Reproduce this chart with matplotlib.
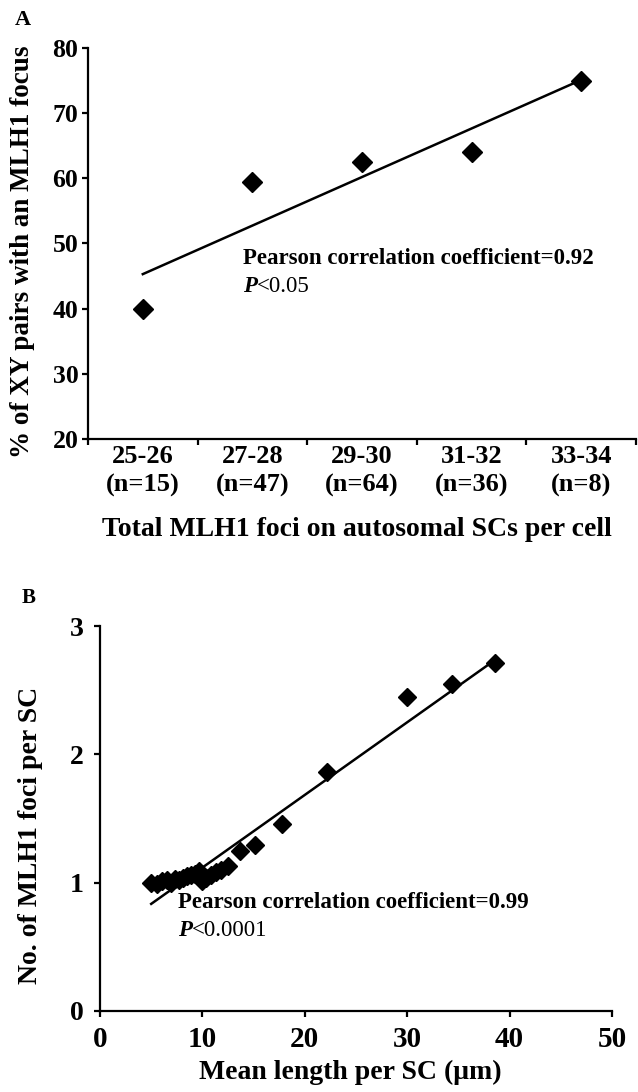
import numpy as np
import matplotlib
matplotlib.use("Agg")
import matplotlib.pyplot as plt
from matplotlib.transforms import offset_copy

plt.rcParams['font.family'] = ['Liberation Serif', 'DejaVu Serif']
plt.rcParams['font.weight'] = 'bold'

# ---- Panel A data ----
cat_ranges = ["25-26", "27-28", "29-30", "31-32", "33-34"]
cat_n = ["(n=15)", "(n=47)", "(n=64)", "(n=36)", "(n=8)"]
pct_xy_focus = [40.0, 59.5, 62.5, 64.0, 75.0]
a_yticks = [20, 30, 40, 50, 60, 70, 80]

# ---- Panel B data ----
mean_len = [5.0, 5.6, 6.1, 6.5, 6.9, 7.3, 7.7, 8.1, 8.5, 8.9, 9.3, 9.7,
            10.0, 10.4, 10.8, 11.3, 11.8, 12.5, 13.7, 15.1, 17.8, 22.2,
            30.0, 34.4, 38.6]
foci_per_sc = [1.00, 0.99, 1.01, 1.02, 1.00, 1.03, 1.02, 1.04, 1.05, 1.06,
               1.07, 1.09, 1.01, 1.04, 1.06, 1.08, 1.10, 1.13, 1.25, 1.29,
               1.46, 1.86, 2.45, 2.55, 2.71]
b_xticks = [0, 10, 20, 30, 40, 50]
b_yticks = [0, 1, 2, 3]

W, H = 638, 1092
fig = plt.figure(figsize=(W / 100, H / 100), dpi=100)

def box(l, t, r, b):
    return [l / W, 1 - b / H, (r - l) / W, (b - t) / H]

lw = 1.6

def style(ax):
    for s in ['top', 'right']:
        ax.spines[s].set_visible(False)
    for s in ['left', 'bottom']:
        ax.spines[s].set_linewidth(lw)
    ax.tick_params(which='both', direction='out', width=lw, length=4, color='black')

# ---------------- Panel A ----------------
axA = fig.add_axes(box(88, 48, 636, 439))
style(axA)
xa = np.arange(1, len(pct_xy_focus) + 1)
axA.plot(xa, pct_xy_focus, linestyle='none', marker='D', markersize=10.5,
         color='black', zorder=3)
ca = np.polyfit(xa, pct_xy_focus, 1)
xfa = np.array([xa[0], xa[-1]])
axA.plot(xfa, np.polyval(ca, xfa), color='black', linewidth=1.8)
axA.set_xlim(0.5, len(xa) + 0.5)
axA.set_ylim(20, 80)
axA.set_yticks(a_yticks)
axA.set_yticklabels([str(v) for v in a_yticks], fontsize=18.5, fontweight='bold')
axA.set_xticks(xa)
axA.set_xticklabels([f"{r}\n{n}" for r, n in zip(cat_ranges, cat_n)],
                    fontsize=19, fontweight='bold', linespacing=1.35)
axA.set_xticks(np.arange(0.5, len(xa) + 1), minor=True)
axA.tick_params(axis='x', which='major', length=0, pad=4)
axA.tick_params(axis='y', pad=3)
axA.set_ylabel("% of XY pairs with an MLH1 focus", fontsize=19.5, fontweight='bold')
axA.yaxis.set_label_coords(-0.097, 0.478)
axA.set_xlabel("Total MLH1 foci on autosomal SCs per cell", fontsize=20,
               fontweight='bold')
axA.xaxis.set_label_coords(0.49, -0.2)
axA.text(243 / W, 1 - 258 / H, "Pearson correlation coefficient=0.92",
         transform=fig.transFigure, fontsize=16.5, fontweight='bold',
         va='center', ha='left')
fig.text(243 / W, 1 - 286 / H, "P", fontsize=16.5, fontstyle='italic',
         fontweight='bold', va='center', ha='left')
fig.text(243 / W, 1 - 286 / H, "<0.05", fontsize=16.5, fontweight='normal',
         va='center', ha='left',
         transform=offset_copy(fig.transFigure, fig=fig, x=10, y=0, units='points'))
fig.text(23 / W, 1 - 20 / H, "A", fontsize=16, fontweight='bold',
         va='center', ha='center')

# ---------------- Panel B ----------------
axB = fig.add_axes(box(100, 626, 612, 1011))
style(axB)
axB.plot(mean_len, foci_per_sc, linestyle='none', marker='D', markersize=9,
         color='black', zorder=3)
cb = np.polyfit(mean_len, foci_per_sc, 1)
xfb = np.array([min(mean_len), max(mean_len)])
axB.plot(xfb, np.polyval(cb, xfb), color='black', linewidth=1.8)
axB.set_xlim(0, 50)
axB.set_ylim(0, 3)
axB.set_xticks(b_xticks)
axB.set_xticklabels([str(v) for v in b_xticks], fontsize=21, fontweight='bold')
axB.set_yticks(b_yticks)
axB.set_yticklabels([str(v) for v in b_yticks], fontsize=20, fontweight='bold')
axB.tick_params(axis='x', pad=7)
axB.tick_params(axis='y', pad=8)
axB.set_ylabel("No. of MLH1 foci per SC", fontsize=20, fontweight='bold')
axB.yaxis.set_label_coords(-0.111, 0.455)
axB.set_xlabel("Mean length per SC (\u03bcm)", fontsize=20, fontweight='bold')
axB.xaxis.set_label_coords(0.488, -0.128)
fig.text(178 / W, 1 - 902 / H, "Pearson correlation coefficient=0.99",
         fontsize=16.5, fontweight='bold', va='center', ha='left')
fig.text(178 / W, 1 - 931 / H, "P", fontsize=16.5, fontstyle='italic',
         fontweight='bold', va='center', ha='left')
fig.text(178 / W, 1 - 931 / H, "<0.0001", fontsize=16.5, fontweight='normal',
         va='center', ha='left',
         transform=offset_copy(fig.transFigure, fig=fig, x=10, y=0, units='points'))
fig.text(29 / W, 1 - 598 / H, "B", fontsize=15, fontweight='bold',
         va='center', ha='center')

fig.savefig("out.png", dpi=100, facecolor='white')
